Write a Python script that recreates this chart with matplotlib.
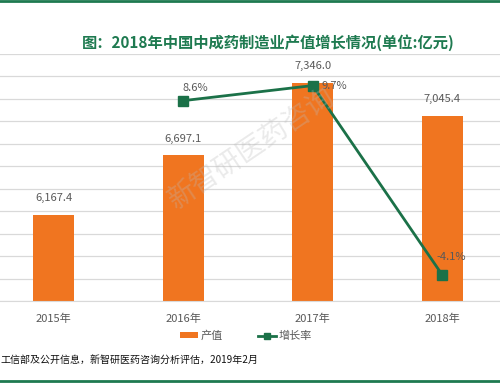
import matplotlib
matplotlib.use("Agg")
import matplotlib.pyplot as plt
from matplotlib.lines import Line2D
from matplotlib.patches import Patch

plt.rcParams['font.family'] = ['Noto Sans CJK SC', 'DejaVu Sans']

years = ["2015年", "2016年", "2017年", "2018年"]
output_values = [6167.4, 6697.1, 7346.0, 7045.4]
growth_years = ["2016年", "2017年", "2018年"]
growth_rates = [8.6, 9.7, -4.1]

title = "图：2018年中国中成药制造业产值增长情况(单位:亿元)"
source = "工信部及公开信息，新智研医药咨询分析评估，2019年2月"

ORANGE = "#F07520"
GREEN = "#1B7148"
TITLE_GREEN = "#1E7A50"
GRAY = "#595959"

fig = plt.figure(figsize=(5.0, 3.83), dpi=100)
W, H = 500, 383
left_px, right_px = -11, 507
top_px, bot_px = 54, 301
ax = fig.add_axes([left_px / W, 1 - bot_px / H, (right_px - left_px) / W, (bot_px - top_px) / H])

x = list(range(len(years)))
ax.bar(x, output_values, width=0.32, color=ORANGE, zorder=2)
ax.set_ylim(5400, 7600)
ax.set_xlim(-0.5, len(years) - 0.5)
ax.set_yticks([5400 + 200 * i for i in range(12)])
ax.yaxis.grid(True, color="#D9D9D9", linewidth=0.9, zorder=0)
ax.set_axisbelow(True)
for s in ["top", "left", "right"]:
    ax.spines[s].set_visible(False)
ax.spines["bottom"].set_color("#D9D9D9")
ax.tick_params(axis="y", left=False, labelleft=False)
ax.tick_params(axis="x", length=0, pad=9, labelsize=8, labelcolor=GRAY)
ax.set_xticks(x)
ax.set_xticklabels(years)

for xi, v in zip(x, output_values):
    ax.text(xi, v + 150, f"{v:,.1f}", ha="center", va="center", fontsize=8, color=GRAY)

ax2 = ax.twinx()
ax2.set_ylim(-6, 12)
gx = [years.index(g) for g in growth_years]
ax2.plot(gx, growth_rates, color=GREEN, linewidth=2, marker="s", markersize=7, zorder=3)
ax2.axis("off")
offsets = [(0.09, 0.95), (0.17, 0.0), (0.07, 1.3)]
for xi, r, (dx, dy) in zip(gx, growth_rates, offsets):
    ax2.text(xi + dx, r + dy, f"{r}%", ha="center", va="center", fontsize=8, color=GRAY)

# watermark
fig.text(252 / W, 1 - 148 / H, "新智研医药咨询", rotation=34, ha="center", va="center",
         fontsize=20, color="#BBBBBB", alpha=0.3, zorder=5)

fig.text(268 / W, 1 - 43 / H, title, ha="center", va="center", fontsize=11,
         fontweight="bold", color=TITLE_GREEN)

handles = [Patch(facecolor=ORANGE, label="产值"),
           Line2D([0], [0], color=GREEN, linewidth=2, marker="s", markersize=5, label="增长率")]
fig.legend(handles=handles, loc="center", bbox_to_anchor=(246 / W, 1 - 336 / H), ncol=2,
           frameon=False, fontsize=8, labelcolor=GRAY, handlelength=1.6, handleheight=0.5,
           columnspacing=3.2, handletextpad=0.2)

fig.text(0, 1 - 360 / H, source, ha="left", va="center", fontsize=7.2, color="#111111")

fig.add_artist(Line2D([0, 1], [1 - 1 / H, 1 - 1 / H], color=TITLE_GREEN, linewidth=2))
fig.add_artist(Line2D([0, 1], [1 - 381 / H, 1 - 381 / H], color=TITLE_GREEN, linewidth=2))

fig.savefig("out.png", dpi=100)
